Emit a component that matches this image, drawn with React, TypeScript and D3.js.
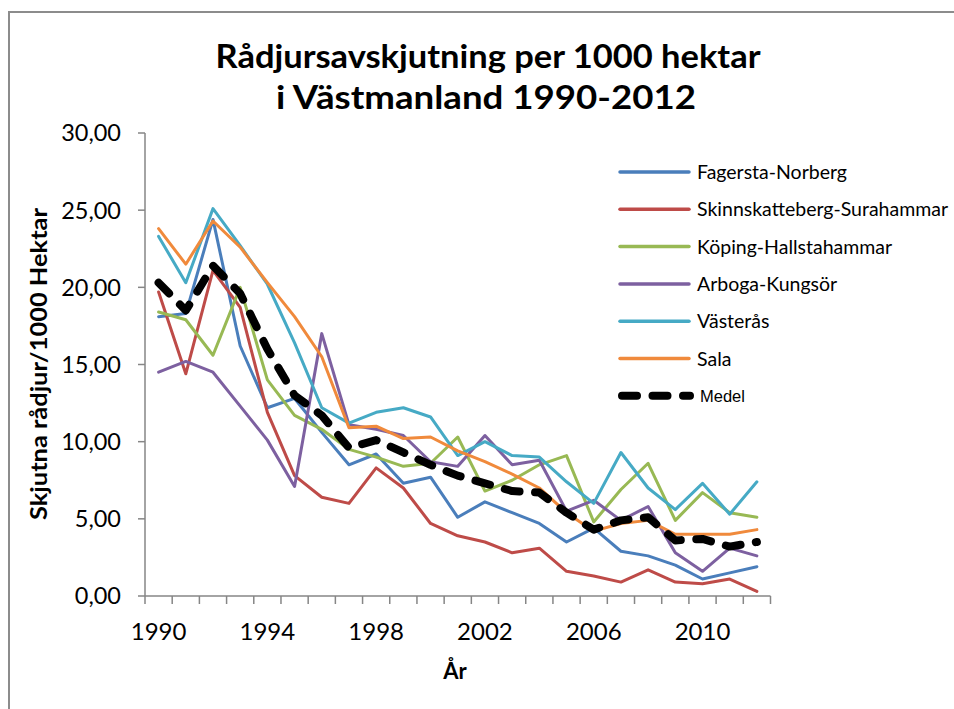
import React from "react";
import * as d3 from "d3";

const years = d3.range(1990, 2013).map(String);
const yTicks = [0, 5, 10, 15, 20, 25, 30];
const xLabelYears = ["1990", "1994", "1998", "2002", "2006", "2010"];

const seriesNames = [
  "Fagersta-Norberg",
  "Skinnskatteberg-Surahammar",
  "Köping-Hallstahammar",
  "Arboga-Kungsör",
  "Västerås",
  "Sala",
];
const seriesColors = ["#4A7EBB", "#BE4B48", "#98B954", "#7D60A0", "#46AAC5", "#F08A3C"];

const fagersta = [18.1, 18.3, 24.4, 16.2, 12.2, 12.8, 10.6, 8.5, 9.2, 7.3, 7.7, 5.1, 6.1, 5.4, 4.7, 3.5, 4.4, 2.9, 2.6, 2.0, 1.1, 1.5, 1.9];
const skinnskatteberg = [19.7, 14.4, 21.1, 18.7, 11.9, 7.8, 6.4, 6.0, 8.3, 7.0, 4.7, 3.9, 3.5, 2.8, 3.1, 1.6, 1.3, 0.9, 1.7, 0.9, 0.8, 1.1, 0.3];
const koping = [18.4, 17.9, 15.6, 20.0, 14.0, 11.7, 10.8, 9.5, 9.0, 8.4, 8.6, 10.3, 6.8, 7.5, 8.5, 9.1, 4.8, 6.9, 8.6, 4.9, 6.7, 5.4, 5.1];
const arboga = [14.5, 15.2, 14.5, 12.3, 10.1, 7.1, 17.0, 11.1, 10.8, 10.4, 8.7, 8.4, 10.4, 8.5, 8.8, 5.5, 6.2, 4.9, 5.8, 2.8, 1.6, 3.1, 2.6];
const vasteras = [23.3, 20.3, 25.1, 22.7, 20.2, 16.4, 12.2, 11.2, 11.9, 12.2, 11.6, 9.1, 10.0, 9.1, 9.0, 7.4, 6.0, 9.3, 7.0, 5.6, 7.3, 5.3, 7.4];
const sala = [23.8, 21.5, 24.3, 22.6, 20.3, 18.1, 15.5, 10.9, 11.0, 10.2, 10.3, 9.4, 8.7, 7.9, 7.0, 5.4, 4.2, 4.7, 4.9, 4.0, 4.0, 4.0, 4.3];
const medel = [20.3, 18.5, 21.4, 19.6, 16.0, 13.0, 11.7, 9.6, 10.1, 9.3, 8.5, 7.8, 7.3, 6.8, 6.7, 5.4, 4.3, 4.9, 5.1, 3.6, 3.7, 3.2, 3.5];

const seriesValues = [fagersta, skinnskatteberg, koping, arboga, vasteras, sala];

const W = 954;
const H = 709;
const FONT = "Lato, 'Open Sans', sans-serif";
const AXIS = "#868686";

export default function App() {
  const x = d3.scaleBand<string>().domain(years).range([145, 770.5]).padding(0);
  const y = d3.scaleLinear().domain([0, 30]).range([596, 133]);
  const bw = x.bandwidth();
  const cx = (yr: string) => (x(yr) as number) + bw / 2;

  const line = d3
    .line<number>()
    .x((_, i) => cx(years[i]))
    .y((v) => y(v));

  const boundaries = d3.range(0, years.length + 1).map((k) => 145 + k * bw);
  const legendRows = seriesNames.map((n, i) => ({ n, c: seriesColors[i], yy: 172 + i * 37.3 }));
  const medelLegendY = 172 + 6 * 37.3;

  return (
    <svg
      width={W}
      height={H}
      style={{ position: "absolute", left: 0, top: 0, display: "block" }}
      fontFamily={FONT}
    >
      <rect x={0} y={0} width={W} height={H} fill="#fff" />
      <rect x={9} y={12} width={W + 20} height={H + 20} fill="#fff" stroke="#8c8c8c" strokeWidth={2} />

      <text x={488} y={68} textAnchor="middle" fontSize={33} fontWeight={700} fill="#000"
        textLength={545} lengthAdjust="spacingAndGlyphs">
        Rådjursavskjutning per 1000 hektar
      </text>
      <text x={486} y={109} textAnchor="middle" fontSize={33} fontWeight={700} fill="#000"
        textLength={420} lengthAdjust="spacingAndGlyphs">
        i Västmanland 1990-2012
      </text>

      {/* Y axis */}
      <line x1={145} x2={145} y1={y(30)} y2={y(0)} stroke={AXIS} strokeWidth={1.5} />
      {yTicks.map((t) => (
        <g key={t}>
          <line x1={138} x2={145} y1={y(t)} y2={y(t)} stroke={AXIS} strokeWidth={1.5} />
          <text x={121} y={y(t)} dy="0.36em" textAnchor="end" fontSize={23.5} fill="#000">
            {t.toFixed(2).replace(".", ",")}
          </text>
        </g>
      ))}
      <text
        transform={`translate(47,364) rotate(-90)`}
        textAnchor="middle"
        fontSize={22}
        fontWeight={700}
        fill="#000"
        textLength={312}
        lengthAdjust="spacingAndGlyphs"
      >
        Skjutna rådjur/1000 Hektar
      </text>

      {/* X axis */}
      <line x1={145} x2={boundaries[boundaries.length - 1]} y1={596} y2={596} stroke={AXIS} strokeWidth={1.5} />
      {boundaries.map((b, k) => (
        <line key={k} x1={b} x2={b} y1={596} y2={604} stroke={AXIS} strokeWidth={1.5} />
      ))}
      {xLabelYears.map((yr) => (
        <text key={yr} x={cx(yr)} y={640} textAnchor="middle" fontSize={24} fill="#000">
          {yr}
        </text>
      ))}
      <text x={455} y={679} textAnchor="middle" fontSize={22} fontWeight={700} fill="#000">
        År
      </text>

      {/* Series */}
      {seriesValues.map((vals, i) => (
        <path
          key={seriesNames[i]}
          d={line(vals) || ""}
          fill="none"
          stroke={seriesColors[i]}
          strokeWidth={3}
          strokeLinejoin="round"
          strokeLinecap="round"
        />
      ))}
      <path
        d={line(medel) || ""}
        fill="none"
        stroke="#000"
        strokeWidth={8}
        strokeDasharray="15 15.5"
        strokeLinecap="round"
        strokeLinejoin="round"
      />

      {/* Legend */}
      {legendRows.map((r) => (
        <g key={r.n}>
          <line x1={620} x2={689} y1={r.yy} y2={r.yy} stroke={r.c} strokeWidth={3.5} strokeLinecap="round" />
          <text x={697} y={r.yy} dy="0.36em" fontSize={19.5} fill="#000">
            {r.n}
          </text>
        </g>
      ))}
      <line
        x1={622}
        x2={690}
        y1={medelLegendY}
        y2={medelLegendY}
        stroke="#000"
        strokeWidth={8}
        strokeDasharray="15 15.5"
        strokeLinecap="round"
      />
      <text x={700} y={medelLegendY} dy="0.36em" fontSize={16.5} fill="#000" fontFamily="'Liberation Sans', Arial, sans-serif">
        Medel
      </text>
    </svg>
  );
}
